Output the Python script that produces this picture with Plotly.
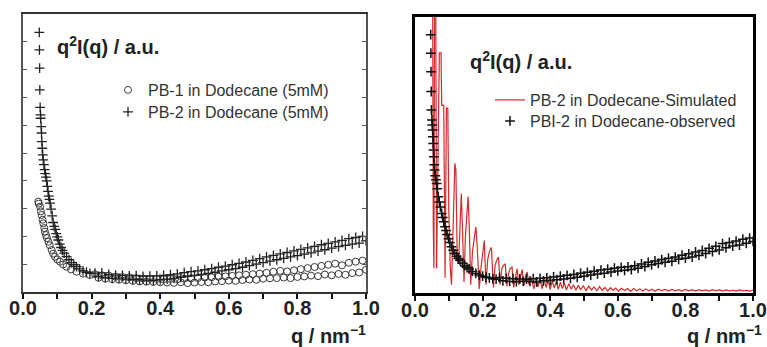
import plotly.graph_objects as go

# ---------------- data (arbitrary units 0-100) -------------
# Left panel: PB-1 (circles)
pb1_q = [0.0446, 0.046, 0.0496, 0.052, 0.0545, 0.057, 0.0593, 0.062, 0.064, 0.067,
         0.070, 0.074, 0.078, 0.0836, 0.088, 0.093, 0.100, 0.108, 0.117, 0.127,
         0.140, 0.156, 0.175, 0.195,
         0.21, 0.22, 0.23, 0.24, 0.25, 0.26, 0.27, 0.28, 0.29, 0.30,
         0.31, 0.32, 0.33, 0.34, 0.35, 0.36, 0.37, 0.38, 0.39, 0.40,
         0.41, 0.42, 0.43, 0.44, 0.45, 0.46, 0.47, 0.48, 0.49, 0.50,
         0.51, 0.52, 0.53, 0.54, 0.55, 0.56, 0.57, 0.58, 0.59, 0.60,
         0.61, 0.62, 0.63, 0.64, 0.65, 0.66, 0.67, 0.68, 0.69, 0.70,
         0.71, 0.72, 0.73, 0.74, 0.75, 0.76, 0.77, 0.78, 0.79, 0.80,
         0.81, 0.82, 0.83, 0.84, 0.85, 0.86, 0.87, 0.88, 0.89, 0.90,
         0.91, 0.92, 0.93, 0.94, 0.95, 0.96, 0.97, 0.98, 0.99, 1.00]
pb1_y = [32.5, 31.8, 30.7, 29.0, 27.7, 26.0, 24.7, 23.0, 21.7, 20.5,
         19.4, 18.1, 16.8, 15.1, 13.8, 12.7, 11.7, 10.9, 9.9, 9.1,
         8.1, 7.3, 6.6, 6.1,
         6.4, 5.1, 6.0, 4.8, 5.9, 4.6, 5.5, 4.4, 5.4, 4.2,
         5.3, 4.0, 5.0, 3.8, 4.9, 3.7, 4.8, 3.6, 4.7, 3.5,
         4.6, 3.4, 4.7, 3.3, 4.6, 3.5, 4.8, 3.2, 4.9, 3.4,
         5.0, 3.6, 5.2, 3.5, 5.3, 3.8, 5.5, 3.9, 5.6, 4.1,
         5.8, 4.0, 6.0, 4.3, 6.2, 4.5, 6.4, 4.4, 6.6, 4.8,
         6.9, 4.9, 7.3, 5.0, 7.6, 5.2, 7.4, 5.0, 7.8, 5.4,
         8.2, 5.6, 8.6, 5.9, 9.0, 5.7, 9.4, 6.3, 9.8, 6.0,
         10.2, 6.5, 9.6, 6.2, 10.5, 6.8, 10.9, 7.0, 11.3, 8.0]

# Left panel: PB-2 (crosses)
pb2_q = [0.0475, 0.048, 0.0485, 0.049, 0.050, 0.051, 0.0515, 0.053, 0.054, 0.055,
         0.056, 0.0575, 0.059, 0.061, 0.063, 0.065, 0.067, 0.069, 0.071, 0.073,
         0.075, 0.077, 0.079, 0.082, 0.085, 0.088, 0.091, 0.094, 0.097, 0.100,
         0.103, 0.107, 0.111, 0.115, 0.120, 0.127, 0.134, 0.141, 0.148, 0.156,
         0.165, 0.175, 0.185, 0.195,
         0.21, 0.22, 0.23, 0.24, 0.25, 0.26, 0.27, 0.28, 0.29, 0.30,
         0.31, 0.32, 0.33, 0.34, 0.35, 0.36, 0.37, 0.38, 0.39, 0.40,
         0.41, 0.42, 0.43, 0.44, 0.45, 0.46, 0.47, 0.48, 0.49, 0.50,
         0.51, 0.52, 0.53, 0.54, 0.55, 0.56, 0.57, 0.58, 0.59, 0.60,
         0.61, 0.62, 0.63, 0.64, 0.65, 0.66, 0.67, 0.68, 0.69, 0.70,
         0.71, 0.72, 0.73, 0.74, 0.75, 0.76, 0.77, 0.78, 0.79, 0.80,
         0.81, 0.82, 0.83, 0.84, 0.85, 0.86, 0.87, 0.88, 0.89, 0.90,
         0.91, 0.92, 0.93, 0.94, 0.95, 0.96, 0.97, 0.98, 0.99, 1.00]
pb2_y = [93.4, 87.1, 80.5, 72.7, 66.4, 63.7, 62.5, 59.5, 57.2, 54.1,
         51.7, 49.3, 47.5, 45.8, 44.0, 42.6, 41.3, 40.0, 38.0, 36.2,
         34.5, 33.3, 32.0, 29.8, 27.4, 25.0, 23.6, 22.5, 21.0, 19.8,
         18.7, 17.2, 16.0, 15.0, 14.0, 12.7, 11.6, 10.6, 9.8, 9.1,
         8.3, 7.6, 7.1, 6.7,
         6.8, 5.6, 6.9, 5.2, 6.3, 4.9, 6.1, 5.0, 6.0, 4.6,
         5.8, 4.5, 5.9, 4.4, 5.6, 4.3, 5.7, 4.2, 5.8, 4.4,
         6.0, 4.6, 6.2, 4.9, 6.5, 5.3, 7.0, 5.6, 7.3, 6.0,
         7.6, 6.3, 8.0, 6.7, 8.4, 7.1, 8.9, 7.6, 9.3, 8.0,
         9.8, 8.4, 10.3, 8.9, 10.8, 9.5, 11.4, 10.0, 12.0, 10.6,
         12.6, 11.1, 13.2, 11.6, 13.7, 12.1, 14.2, 12.6, 14.8, 13.1,
         15.3, 13.6, 15.9, 14.1, 16.4, 14.7, 17.0, 15.2, 17.5, 15.8,
         18.0, 16.3, 18.6, 16.8, 19.2, 17.2, 19.6, 17.6, 20.0, 18.4]

# Right panel: observed PBI-2 (crosses)
obs_q = [0.0465, 0.047, 0.0475, 0.048, 0.0485, 0.050, 0.051, 0.052, 0.053, 0.054,
         0.055, 0.056, 0.057, 0.058, 0.060, 0.062, 0.064, 0.066, 0.069, 0.072,
         0.075, 0.079, 0.082, 0.085, 0.089, 0.092, 0.095, 0.099, 0.103, 0.108,
         0.113, 0.118, 0.123, 0.128, 0.133, 0.140, 0.147, 0.154, 0.160, 0.170,
         0.180, 0.190, 0.200, 0.210, 0.220, 0.230, 0.240,
         0.25, 0.26, 0.27, 0.28, 0.29, 0.30, 0.31, 0.32, 0.33, 0.34,
         0.35, 0.36, 0.37, 0.38, 0.39, 0.40, 0.41, 0.42, 0.43, 0.44,
         0.45, 0.46, 0.47, 0.48, 0.49, 0.50, 0.51, 0.52, 0.53, 0.54,
         0.55, 0.56, 0.57, 0.58, 0.59, 0.60, 0.61, 0.62, 0.63, 0.64,
         0.65, 0.66, 0.67, 0.68, 0.69, 0.70, 0.71, 0.72, 0.73, 0.74,
         0.75, 0.76, 0.77, 0.78, 0.79, 0.80, 0.81, 0.82, 0.83, 0.84,
         0.85, 0.86, 0.87, 0.88, 0.89, 0.90, 0.91, 0.92, 0.93, 0.94,
         0.95, 0.96, 0.97, 0.98, 0.99, 1.00]
obs_y = [93.6, 86.9, 80.2, 73.0, 66.3, 62.7, 60.9, 59.1, 56.6, 54.2,
         51.8, 49.4, 46.5, 44.6, 42.5, 41.0, 39.7, 37.8, 34.9, 33.0,
         31.2, 28.8, 27.4, 25.8, 24.0, 22.6, 21.2, 19.7, 18.3, 16.8,
         15.5, 14.3, 13.3, 12.5, 11.9, 10.8, 9.9, 9.2, 8.7, 7.8,
         7.1, 6.5, 6.1, 5.7, 5.5, 5.2, 5.0,
         5.6, 4.4, 5.3, 4.2, 5.2, 4.1, 5.1, 4.3, 5.0, 4.2,
         5.2, 4.0, 5.3, 4.4, 5.5, 4.6, 5.8, 4.8, 6.1, 5.1,
         6.4, 5.3, 6.7, 5.7, 7.2, 6.1, 7.5, 6.5, 7.9, 6.9,
         8.3, 7.2, 8.6, 7.6, 9.0, 8.0, 9.3, 8.2, 9.5, 8.5,
         9.9, 9.0, 10.5, 9.6, 11.1, 10.2, 11.6, 10.7, 12.1, 11.1,
         12.6, 11.5, 13.0, 12.2, 13.7, 12.6, 14.2, 13.0, 14.9, 13.6,
         15.4, 14.3, 16.2, 15.0, 16.9, 15.6, 17.9, 16.4, 18.3, 17.0,
         18.8, 17.4, 19.5, 18.0, 19.9, 18.7]

# Right panel: simulated PB-2 (red line)
sim_q = [0.049, 0.052, 0.054, 0.056, 0.058, 0.061, 0.064, 0.068, 0.072, 0.077,
         0.079, 0.085, 0.089, 0.093, 0.097, 0.100, 0.104, 0.108, 0.113, 0.118,
         0.121, 0.125, 0.129, 0.133, 0.137, 0.140, 0.145, 0.149, 0.153, 0.157,
         0.160, 0.165, 0.170, 0.175, 0.180, 0.184, 0.190, 0.196, 0.201, 0.205,
         0.210, 0.215, 0.220, 0.226, 0.232, 0.237, 0.242, 0.247, 0.252, 0.257,
         0.262, 0.267, 0.272, 0.277, 0.282, 0.287, 0.292, 0.297, 0.302, 0.307,
         0.312, 0.317, 0.322, 0.327, 0.332, 0.337, 0.342, 0.347, 0.352, 0.358,
         0.364, 0.370, 0.376, 0.382, 0.388, 0.394, 0.400, 0.406, 0.412, 0.418,
         0.424, 0.430, 0.436, 0.442, 0.448, 0.455, 0.462, 0.469, 0.476, 0.483,
         0.490, 0.498, 0.506, 0.514, 0.522, 0.530, 0.538, 0.546, 0.554, 0.562,
         0.570, 0.578, 0.586, 0.594, 0.602, 0.611, 0.620, 0.629, 0.638, 0.647,
         0.656, 0.665, 0.674, 0.683, 0.692, 0.701, 0.71, 0.72, 0.73, 0.74,
         0.75, 0.76, 0.77, 0.78, 0.79, 0.80, 0.81, 0.82, 0.83, 0.84,
         0.85, 0.86, 0.87, 0.88, 0.89, 0.90, 0.91, 0.92, 0.93, 0.94,
         0.95, 0.96, 0.97, 0.98, 0.99, 1.00]
sim_y = [120, 120, 25, 9, 120, 120, 9, 45, 87, 87,
         68, 68, 5.5, 67, 67, 30, 10, 3, 30, 47,
         44.6, 12, 11, 24, 36, 25, 4, 20, 30, 35,
         25.8, 3, 15, 20, 24, 17, 1.5, 10, 16, 19,
         3, 12, 15, 16.5, 2, 10, 12, 13, 3, 9,
         10, 10.6, 2.5, 7, 9, 9.4, 2, 6, 8.8, 3,
         6.5, 8.5, 2.5, 6, 7.6, 3, 6, 4, 1.5, 5.5,
         2.2, 5.3, 1.5, 5, 2, 4.8, 1.2, 4.5, 1.8, 4.2,
         1.3, 3.9, 1.6, 3.6, 1.1, 3.4, 1.4, 3.0, 1.0, 2.8,
         1.2, 2.6, 0.9, 2.5, 1.1, 2.2, 0.8, 2.3, 1.0, 2.0,
         0.7, 1.9, 0.9, 1.8, 0.7, 1.7, 0.9, 1.6, 0.6, 1.6,
         0.8, 1.5, 0.7, 1.5, 0.8, 1.4, 0.6, 1.4, 0.8, 1.3,
         0.7, 1.3, 0.8, 1.2, 0.7, 1.3, 0.8, 1.2, 0.7, 1.2,
         0.8, 1.1, 0.7, 1.2, 0.8, 1.1, 0.7, 1.1, 0.8, 1.0,
         0.7, 1.1, 0.8, 1.0, 0.7, 1.0]

x_tickvals = [0.0, 0.2, 0.4, 0.6, 0.8, 1.0]
x_ticktext = ["0.0", "0.2", "0.4", "0.6", "0.8", "1.0"]

# ---------------- figure -------------------------------------------------------------
W, H = 767, 347
FONT = "Liberation Sans, Arial, sans-serif"

def px_x(p):
    return p / W

def px_y(p):
    return 1 - p / H

fig = go.Figure()

fig.add_trace(go.Scatter(
    x=pb1_q, y=pb1_y, mode="markers", name="PB-1 in Dodecane (5mM)",
    marker=dict(symbol="circle-open", size=7, color="#3a3a3a", line=dict(width=1)),
    xaxis="x", yaxis="y", legend="legend"))
fig.add_trace(go.Scatter(
    x=pb2_q, y=pb2_y, mode="markers", name="PB-2 in Dodecane (5mM)",
    marker=dict(symbol="cross-thin-open", size=7, color="#222222", line=dict(width=1.3, color="#222222")),
    xaxis="x", yaxis="y", legend="legend2"))

fig.add_trace(go.Scatter(
    x=sim_q, y=sim_y, mode="lines", name="PB-2 in Dodecane-Simulated",
    line=dict(color="#d42a2a", width=1.2),
    xaxis="x2", yaxis="y2", legend="legend3"))
fig.add_trace(go.Scatter(
    x=obs_q, y=obs_y, mode="markers", name="PBI-2 in Dodecane-observed",
    marker=dict(symbol="cross-thin-open", size=7, color="#111111", line=dict(width=1.5, color="#111111")),
    xaxis="x2", yaxis="y2", legend="legend4"))

xcommon = dict(range=[0, 1], tickvals=x_tickvals, ticktext=x_ticktext, ticks="outside",
               ticklen=5, tickwidth=1.5, tickcolor="#111", showgrid=False, zeroline=False,
               minor=dict(dtick=0.1, tick0=0, ticks="outside", ticklen=5, tickwidth=1.5,
                          tickcolor="#111", showgrid=False),
               tickfont=dict(family=FONT, size=20, color="#222", weight="bold"),
               ticklabelstandoff=-8,
               showline=True, automargin=False)

def leg(xp, yp):
    return dict(x=px_x(xp), y=px_y(yp), xanchor="left", yanchor="middle",
                bgcolor="rgba(0,0,0,0)", borderwidth=0, itemwidth=30,
                font=dict(family=FONT, size=16, color="#333"), tracegroupgap=0)

fig.update_layout(
    template="none",
    width=W, height=H, margin=dict(l=0, r=0, t=0, b=0, autoexpand=False),
    paper_bgcolor="white", plot_bgcolor="white",
    font=dict(family=FONT, color="#222"),
    xaxis=dict(domain=[px_x(23), px_x(366)], anchor="y", mirror=True,
               linecolor="#333", linewidth=2, **xcommon),
    yaxis=dict(domain=[px_y(292), px_y(14)], anchor="x", range=[0, 100],
               showticklabels=False, ticks="inside", ticklen=4, tickwidth=1, tickcolor="#555",
               dtick=10, tick0=0, showgrid=False, zeroline=False, automargin=False,
               showline=True, linecolor="#555", linewidth=1.5, mirror="ticks"),
    xaxis2=dict(domain=[px_x(415), px_x(753)], anchor="y2", mirror=True,
                linecolor="#000", linewidth=3, **xcommon),
    yaxis2=dict(domain=[px_y(293), px_y(17)], anchor="x2", range=[0, 100],
                showticklabels=False, ticks="", showgrid=False, zeroline=False, automargin=False,
                showline=True, linecolor="#000", linewidth=3, mirror=True),
    legend=leg(108, 90),
    legend2=leg(108, 112),
    legend3=leg(490, 100),
    legend4=leg(490, 121),
    showlegend=True,
)

ann_font = dict(family=FONT, size=20, color="#222")
fig.add_annotation(text="<b>q<sup>2</sup>I(q) / a.u.</b>", xref="paper", yref="paper",
                   x=px_x(55), y=px_y(45), xanchor="left", yanchor="middle",
                   showarrow=False, font=ann_font)
fig.add_annotation(text="<b>q<sup>2</sup>I(q) / a.u.</b>", xref="paper", yref="paper",
                   x=px_x(468), y=px_y(60), xanchor="left", yanchor="middle",
                   showarrow=False, font=ann_font)
fig.add_annotation(text="<b>q / nm<sup>−1</sup></b>", xref="paper", yref="paper",
                   x=px_x(368), y=px_y(334), xanchor="right", yanchor="middle",
                   showarrow=False, font=ann_font)
fig.add_annotation(text="<b>q / nm<sup>−1</sup></b>", xref="paper", yref="paper",
                   x=px_x(764), y=px_y(334), xanchor="right", yanchor="middle",
                   showarrow=False, font=ann_font)

fig.write_html("out.html", config={"displayModeBar": False},
               post_script="document.body.style.margin='0';")
